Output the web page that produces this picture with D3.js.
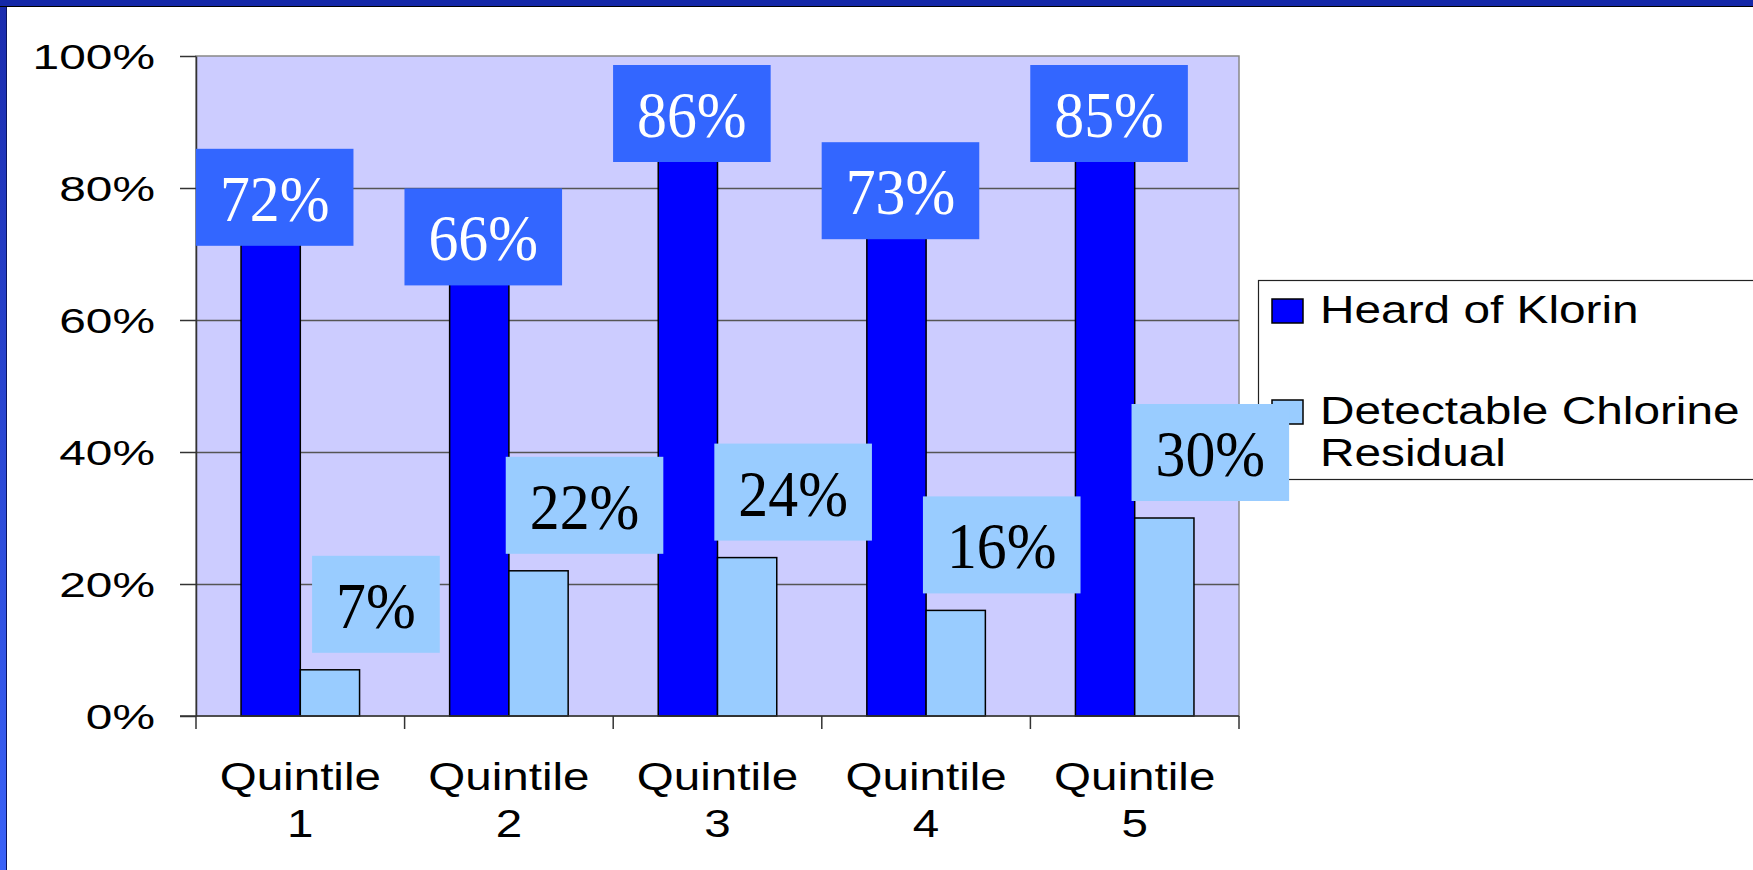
<!DOCTYPE html>
<html>
<head>
<meta charset="utf-8">
<script src="https://cdn.jsdelivr.net/npm/d3@7"></script>
<style>
body { margin: 0; background: #fff; }
</style>
</head>
<body>
<script>
var categories = ['Quintile 1', 'Quintile 2', 'Quintile 3', 'Quintile 4', 'Quintile 5'];
var seriesNames = ['Heard of Klorin', 'Detectable Chlorine Residual'];
var heardOfKlorin = [0.72, 0.66, 0.86, 0.73, 0.85];
var chlorineResidual = [0.07, 0.22, 0.24, 0.16, 0.30];
var yTicks = [0, 0.2, 0.4, 0.6, 0.8, 1];

var width = 1753, height = 870;
var plot = {left: 196, top: 56, right: 1239, bottom: 716};
var barColors = ['#0000ff', '#99ccff'];
var labelFill = ['#3366ff', '#99ccff'];
var labelInk = ['#ffffff', '#000000'];
var sans = "'Liberation Sans', Arial, sans-serif";
var serif = "'Liberation Serif', 'Times New Roman', serif";

var series = [heardOfKlorin, chlorineResidual];

var svg = d3.select('body').append('svg')
	.attr('width', width)
	.attr('height', height);

// slide frame
var defs = svg.append('defs');
var grad = defs.append('linearGradient')
	.attr('id', 'sideGrad')
	.attr('x1', 0).attr('y1', 0).attr('x2', 0).attr('y2', 1);
grad.append('stop').attr('offset', '0%').attr('stop-color', '#1a2cae');
grad.append('stop').attr('offset', '100%').attr('stop-color', '#3a62f8');

svg.append('rect').attr('width', width).attr('height', height).attr('fill', '#fff');
svg.append('rect').attr('x', 0).attr('y', 0).attr('width', 6).attr('height', height).attr('fill', 'url(#sideGrad)');
svg.append('line').attr('x1', 6.5).attr('x2', 6.5).attr('y1', 0).attr('y2', height).attr('stroke', '#0a1460').attr('stroke-width', 1);
svg.append('rect').attr('x', 0).attr('y', 0).attr('width', width).attr('height', 6).attr('fill', '#1428a8');
svg.append('line').attr('x1', 0).attr('x2', width).attr('y1', 6.5).attr('y2', 6.5).attr('stroke', '#000').attr('stroke-width', 1);

// scales
var x = d3.scaleBand().domain(categories).range([plot.left, plot.right]);
var xInner = d3.scaleBand().domain(seriesNames).range([0, x.bandwidth()]).paddingOuter(0.76);
var y = d3.scaleLinear().domain([0, 1]).range([plot.bottom, plot.top]);

// plot area
svg.append('rect')
	.attr('x', plot.left)
	.attr('y', plot.top)
	.attr('width', plot.right - plot.left)
	.attr('height', plot.bottom - plot.top)
	.attr('fill', '#ccccff')
	.attr('stroke', '#888')
	.attr('stroke-width', 1.5);

// gridlines
svg.append('g').selectAll('line')
	.data(yTicks.slice(1, -1))
	.enter()
	.append('line')
	.attr('x1', plot.left).attr('x2', plot.right)
	.attr('y1', function(d) { return Math.round(y(d)) + 0.5; })
	.attr('y2', function(d) { return Math.round(y(d)) + 0.5; })
	.attr('stroke', '#555')
	.attr('stroke-width', 1.5);

// bars
series.forEach(function(vals, s) {
	svg.append('g').selectAll('rect')
		.data(vals)
		.enter()
		.append('rect')
		.attr('x', function(d, i) { return x(categories[i]) + xInner(seriesNames[s]); })
		.attr('y', function(d) { return y(d); })
		.attr('width', xInner.bandwidth())
		.attr('height', function(d) { return y(0) - y(d); })
		.attr('fill', barColors[s])
		.attr('stroke', '#000')
		.attr('stroke-width', 1.5);
});

// y axis
var yAxis = svg.append('g')
	.attr('transform', 'translate(' + plot.left + ',0)')
	.call(d3.axisLeft(y).tickValues(yTicks).tickSize(16).tickSizeOuter(0).tickFormat(d3.format('.0%')));
yAxis.select('.domain').attr('stroke', '#333').attr('stroke-width', 1.5);
yAxis.selectAll('.tick line').attr('stroke', '#333').attr('stroke-width', 1.5);
yAxis.selectAll('.tick text')
	.attr('x', 0).attr('dy', null)
	.attr('transform', 'translate(-41,12.5) scale(1.33,1)')
	.attr('font-family', sans)
	.attr('font-size', 36)
	.attr('fill', '#000');

// x axis
var xAxis = svg.append('g')
	.attr('transform', 'translate(0,' + plot.bottom + ')');
xAxis.append('line')
	.attr('x1', plot.left - 16).attr('x2', plot.right)
	.attr('stroke', '#333').attr('stroke-width', 1.5);
xAxis.selectAll('line.edge')
	.data(categories.concat(['end']))
	.enter()
	.append('line')
	.attr('class', 'edge')
	.attr('x1', function(d, i) { return i < categories.length ? x(d) : plot.right; })
	.attr('x2', function(d, i) { return i < categories.length ? x(d) : plot.right; })
	.attr('y1', 0).attr('y2', 13)
	.attr('stroke', '#333').attr('stroke-width', 1.5);

var catLabels = xAxis.selectAll('g.cat')
	.data(categories)
	.enter()
	.append('g')
	.attr('class', 'cat')
	.attr('transform', function(d) { return 'translate(' + (x(d) + x.bandwidth() / 2) + ',0)'; });
catLabels.each(function(d) {
	var words = d.split(' ');
	var g = d3.select(this);
	words.forEach(function(w, k) {
		g.append('text')
			.attr('transform', 'translate(0,' + (74 + k * 47) + ') scale(1.22,1)')
			.attr('text-anchor', 'middle')
			.attr('font-family', sans)
			.attr('font-size', 39)
			.text(w);
	});
});

// legend
var legend = svg.append('g');
legend.append('rect')
	.attr('x', 1258.5).attr('y', 280.5)
	.attr('width', 600).attr('height', 199)
	.attr('fill', '#fff').attr('stroke', '#222').attr('stroke-width', 1.2);

function wrap(name, maxW) {
	var words = name.split(' '), lines = [], cur = '';
	var probe = svg.append('text').attr('font-family', sans).attr('font-size', 39.5);
	words.forEach(function(w) {
		var t = cur ? cur + ' ' + w : w;
		probe.text(t);
		if (cur && probe.node().getComputedTextLength() * 1.21 > maxW) {
			lines.push(cur);
			cur = w;
		} else {
			cur = t;
		}
	});
	lines.push(cur);
	probe.remove();
	return lines;
}

var itemY = [299, 400];
seriesNames.forEach(function(name, s) {
	legend.append('rect')
		.attr('x', 1272).attr('y', itemY[s])
		.attr('width', 31).attr('height', 24)
		.attr('fill', barColors[s]).attr('stroke', '#000').attr('stroke-width', 1.5);
	wrap(name, 430).forEach(function(line, k) {
		legend.append('text')
			.attr('transform', 'translate(1320,' + (itemY[s] + 24 + k * 42) + ') scale(1.21,1)')
			.attr('font-family', sans)
			.attr('font-size', 39.5)
			.text(line);
	});
});

// data labels
var boxH = 97;
series.forEach(function(vals, s) {
	var g = svg.append('g').selectAll('g')
		.data(vals)
		.enter()
		.append('g');
	g.each(function(d, i) {
		var barMid = x(categories[i]) + xInner(seriesNames[s]) + xInner.bandwidth() / 2;
		var cx, top;
		if (s === 0) {
			cx = barMid + 4;
			top = Math.max(y(d) + 5 - boxH, plot.top + 9);
		} else {
			cx = barMid + 46;
			top = y(d) - 17 - boxH;
		}
		var lab = d3.select(this);
		var rect = lab.append('rect')
			.attr('y', top)
			.attr('height', boxH)
			.attr('fill', labelFill[s]);
		var txt = lab.append('text')
			.attr('transform', 'translate(' + cx + ',' + (top + 72) + ') scale(0.92,1)')
			.attr('text-anchor', 'middle')
			.attr('font-family', serif)
			.attr('font-size', 65)
			.attr('fill', labelInk[s])
			.text(d3.format('.0%')(d));
		var w = txt.node().getComputedTextLength() * 0.92 + 48;
		rect.attr('x', cx - w / 2).attr('width', w);
	});
});
</script>
</body>
</html>
